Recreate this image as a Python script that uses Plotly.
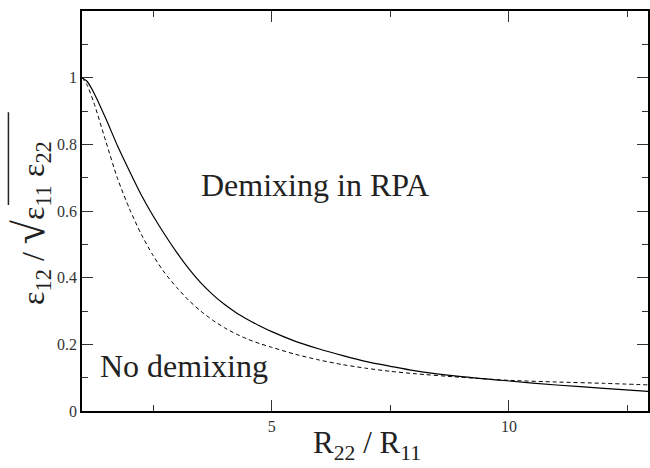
import plotly.graph_objects as go

# data
x_vals = [1.0, 1.1, 1.25, 1.5, 1.75, 2.0, 2.25, 2.5, 2.75, 3.0, 3.25, 3.5, 3.75, 4.0, 4.25, 4.5, 4.75,
          5.0, 5.5, 6.0, 6.5, 7.0, 7.5, 8.0, 9.0, 10.0, 11.0, 12.0, 13.0]
rpa_solid = [1.0, 0.99, 0.955, 0.878, 0.795, 0.72, 0.648, 0.585, 0.528, 0.475, 0.427, 0.385, 0.350,
             0.320, 0.295, 0.274, 0.255, 0.238, 0.209, 0.186, 0.166, 0.148, 0.134, 0.121, 0.103,
             0.09, 0.078, 0.068, 0.058]
other_dashed = [1.0, 0.98, 0.925, 0.81, 0.697, 0.607, 0.530, 0.466, 0.413, 0.37, 0.332, 0.30, 0.273,
                0.25, 0.231, 0.215, 0.202, 0.191, 0.17, 0.153, 0.139, 0.128, 0.119, 0.112, 0.101,
                0.092, 0.087, 0.083, 0.078]

x_ticks = [5, 10]
x_ticktext = ["5", "10"]
x_minor = [2.5, 7.5, 12.5]
y_ticks = [0, 0.2, 0.4, 0.6, 0.8, 1.0]
y_ticktext = ["0", "0.2", "0.4", "0.6", "0.8", "1"]

FONT = "Liberation Serif"
TICKFONT = dict(family=FONT, size=16, color="#333")

fig = go.Figure()
fig.add_trace(go.Scatter(x=x_vals, y=rpa_solid, mode="lines",
                         line=dict(color="black", width=1.2, shape="spline", smoothing=0.7),
                         showlegend=False))
fig.add_trace(go.Scatter(x=x_vals, y=other_dashed, mode="lines",
                         line=dict(color="black", width=1, dash="4px,3px", shape="spline", smoothing=0.7),
                         showlegend=False))

fig.update_layout(
    width=650, height=468, margin=dict(l=82, r=0, t=11, b=57),
    font=dict(family=FONT, size=16, color="#333"),
    paper_bgcolor="white", plot_bgcolor="white",
    xaxis=dict(range=[1, 12.93], tickmode="array", tickvals=x_ticks, ticktext=x_ticktext,
               tickfont=TICKFONT,
               showline=True, linecolor="black", linewidth=1.5, mirror="ticks",
               ticks="inside", ticklen=11, tickwidth=1, tickcolor="#333",
               showgrid=False, zeroline=False,
               minor=dict(tickvals=x_minor, ticklen=6, ticks="inside", tickcolor="#333")),
    yaxis=dict(range=[0, 1.2], tickmode="array", tickvals=y_ticks, ticktext=y_ticktext,
               tickfont=TICKFONT,
               showline=True, linecolor="black", linewidth=1.5, mirror="ticks",
               ticks="inside", ticklen=11, tickwidth=1, tickcolor="#333",
               showgrid=False, zeroline=False,
               minor=dict(dtick=0.1, ticklen=6, ticks="inside", tickcolor="#333")),
)

fig.add_annotation(text="Demixing in RPA", x=3.47, y=0.678, xref="x", yref="y",
                   xanchor="left", yanchor="middle", showarrow=False,
                   font=dict(family=FONT, size=32, color="#222"))
fig.add_annotation(text="No demixing", x=1.33, y=0.134, xref="x", yref="y",
                   xanchor="left", yanchor="middle", showarrow=False,
                   font=dict(family=FONT, size=32, color="#222"))

# x-axis title
fig.add_annotation(text="R<sub>22</sub> / R<sub>11</sub>", x=0.503, y=-0.085,
                   xref="paper", yref="paper", xanchor="center", yanchor="middle",
                   showarrow=False, font=dict(family=FONT, size=31, color="#222"))
# y-axis title
fig.add_annotation(text="ε<sub>12</sub> / <span style=\"font-size:44px\">√</span>ε<sub>11</sub> ε<sub>22</sub>",
                   x=-0.092, y=0.47,
                   xref="paper", yref="paper", xanchor="center", yanchor="middle",
                   textangle=-90, showarrow=False, font=dict(family=FONT, size=32, color="#222"))
# overline of the square root
fig.add_shape(type="line", xref="paper", yref="paper",
              x0=-0.130, x1=-0.130, y0=0.515, y1=0.747,
              line=dict(color="#222", width=1.5))

fig.write_html("out.html")
